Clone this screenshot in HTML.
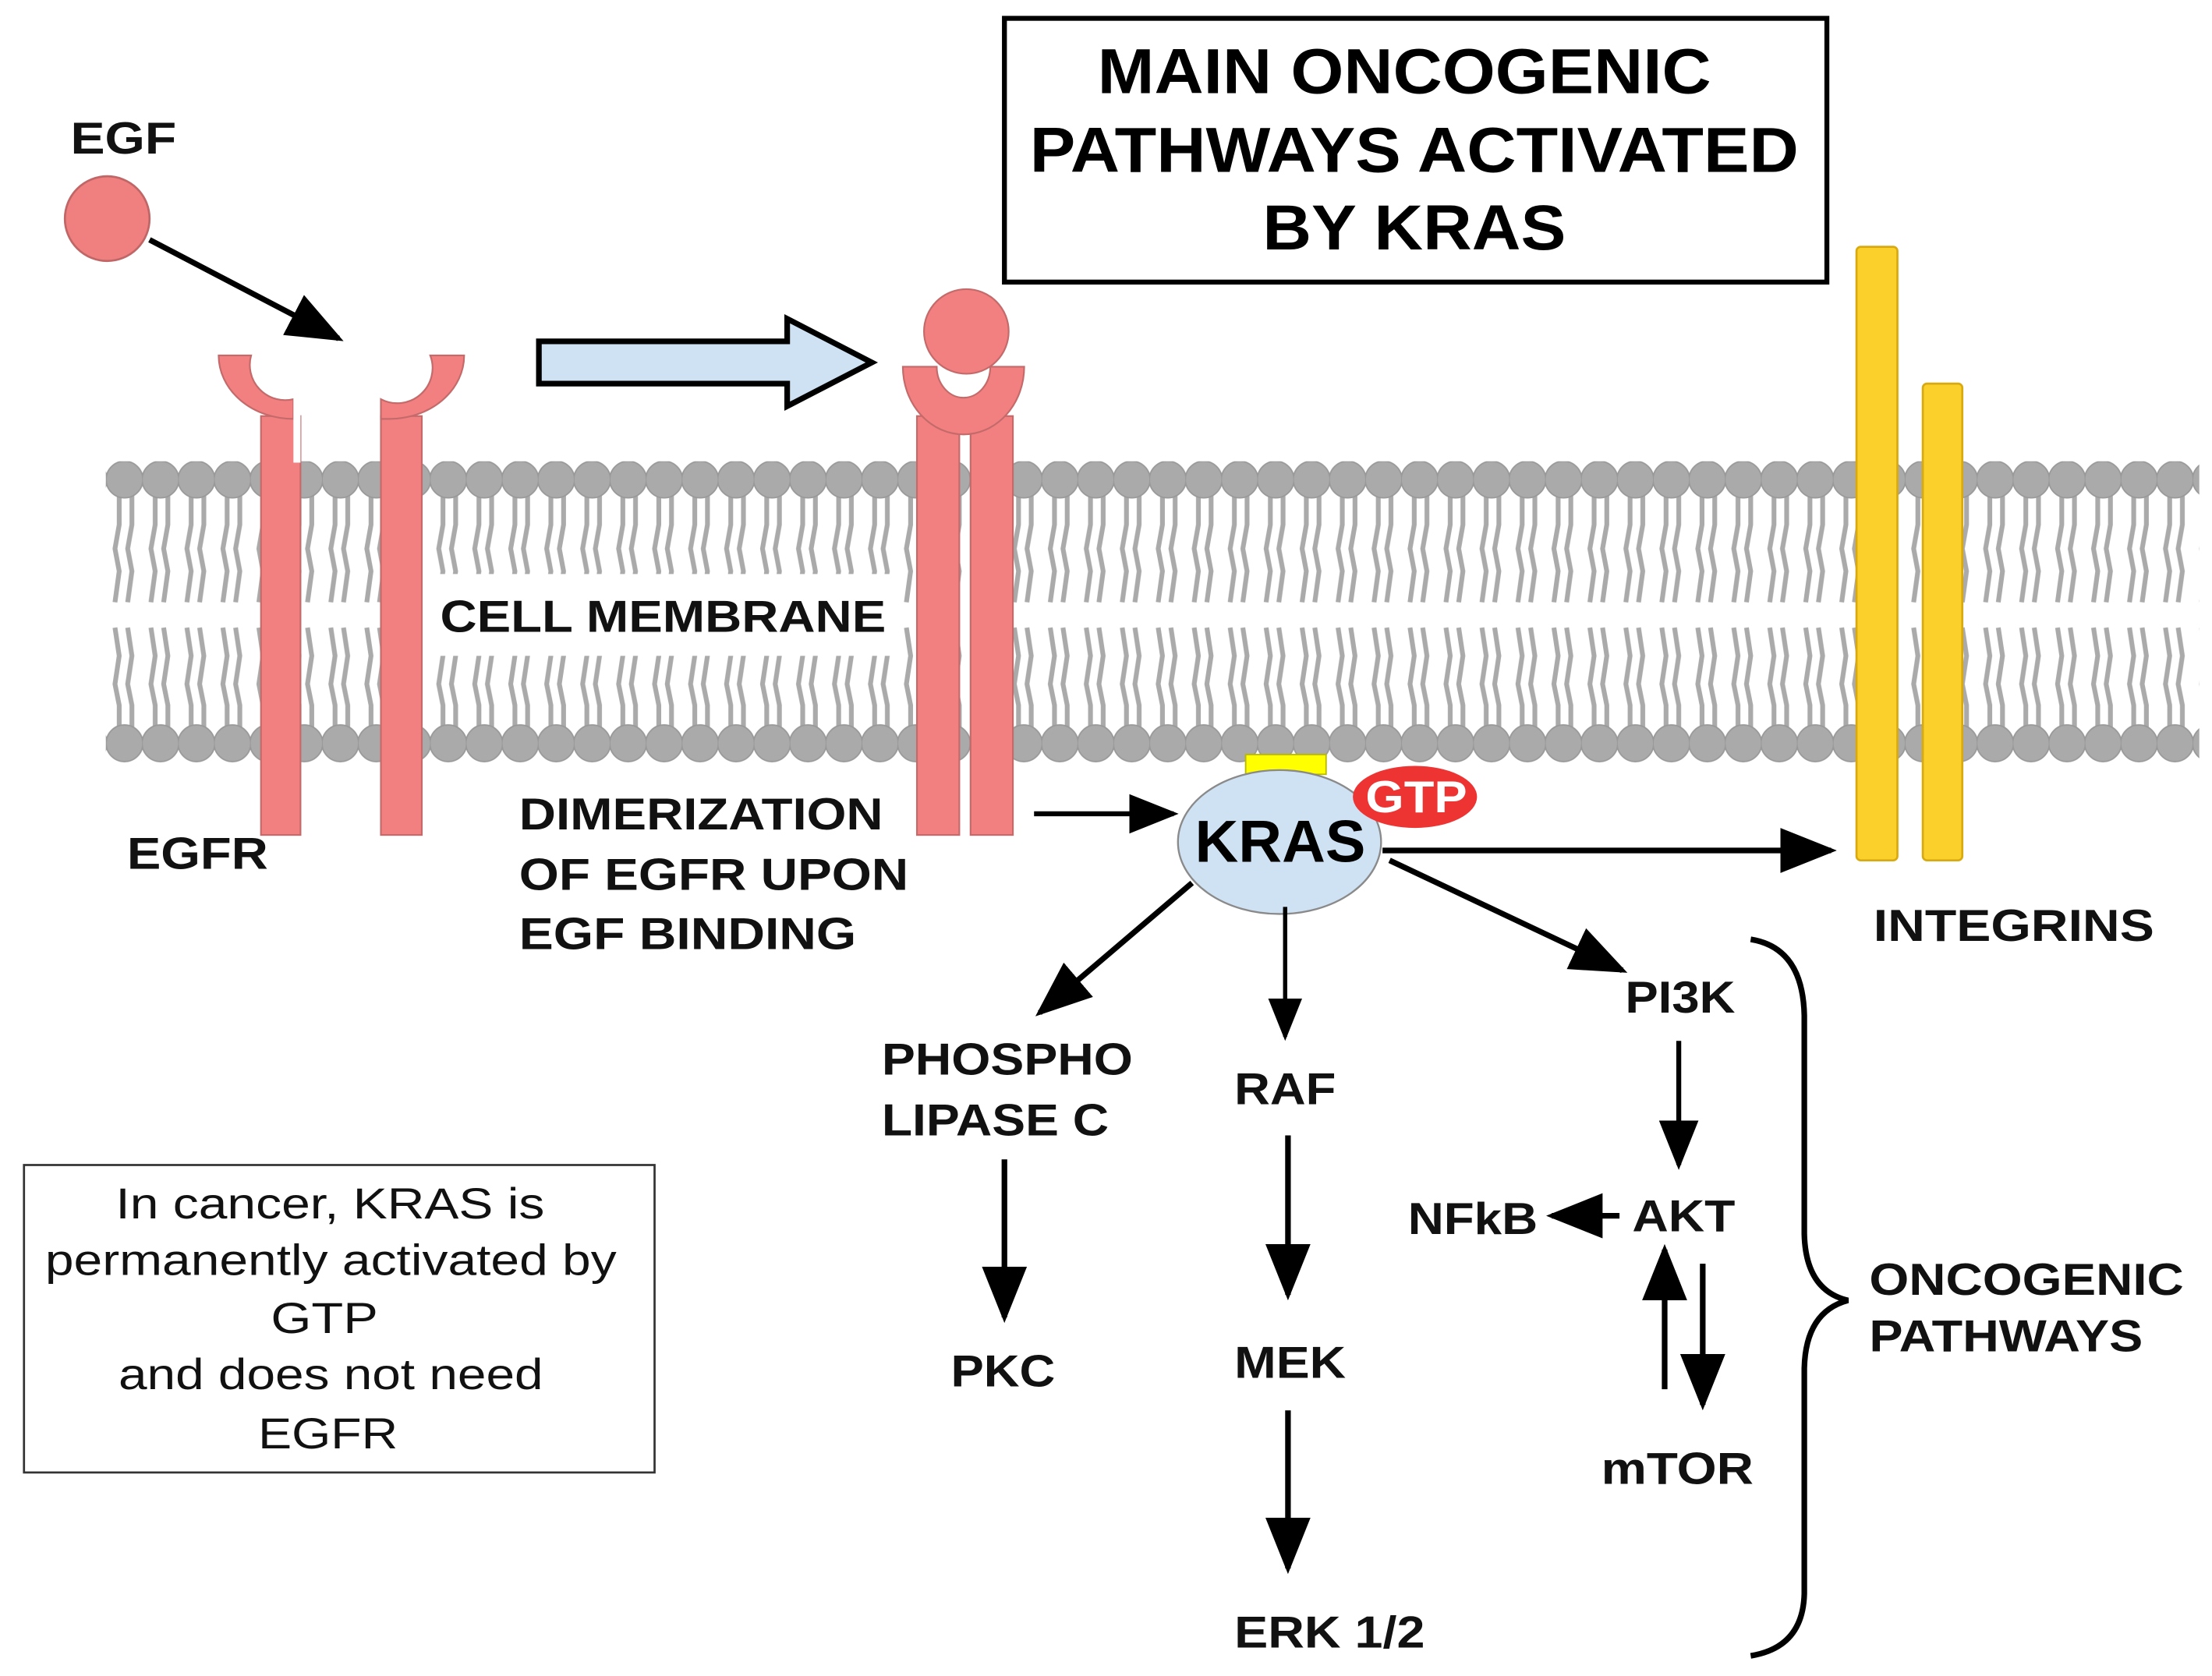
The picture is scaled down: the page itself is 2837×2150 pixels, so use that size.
<!DOCTYPE html>
<html><head><meta charset="utf-8"><style>
html,body{margin:0;padding:0;background:#fff;}
svg{display:block;}
text{font-family:"Liberation Sans",Arial,sans-serif;}
.b{font-weight:bold;font-size:32px;fill:#111;}
</style></head><body>
<svg width="2837" height="2150" viewBox="0 0 1568 1188.3" preserveAspectRatio="none" xmlns="http://www.w3.org/2000/svg">
<defs>
<pattern id="up" x="75.5" y="327" width="25.5" height="110" patternUnits="userSpaceOnUse">
 <path d="M9 24 L9 45 L6 62 L9 78 L6 100 M18 24 L18 45 L15 62 L18 78 L15 100" fill="none" stroke="#aaa" stroke-width="3.4"/>
 <circle cx="12.75" cy="13" r="13" fill="#aaa" stroke="#999" stroke-width="1"/>
</pattern>
<pattern id="lo" x="75.5" y="440" width="25.5" height="101" patternUnits="userSpaceOnUse">
 <path d="M6 5 L9 25 L6 45 L9 60 L9 80 M15 5 L18 25 L15 45 L18 60 L18 80" fill="none" stroke="#aaa" stroke-width="3.4"/>
 <circle cx="12.75" cy="87" r="13" fill="#aaa" stroke="#999" stroke-width="1"/>
</pattern>
<marker id="ah" markerWidth="10" markerHeight="8" refX="9" refY="4" orient="auto" markerUnits="strokeWidth">
 <path d="M0 0 L10 4 L0 8 Z" fill="#000"/>
</marker>
</defs>
<rect width="1568" height="1189" fill="#fff"/>

<rect x="712" y="13" width="583" height="187" fill="#fff" stroke="#000" stroke-width="3.5"/>
<g style="font-weight:bold;font-size:45px" lengthAdjust="spacingAndGlyphs">
<text x="778" y="66" textLength="435" lengthAdjust="spacingAndGlyphs">MAIN ONCOGENIC</text>
<text x="730" y="122" textLength="545" lengthAdjust="spacingAndGlyphs">PATHWAYS ACTIVATED</text>
<text x="895" y="177" textLength="215" lengthAdjust="spacingAndGlyphs">BY KRAS</text>
</g>

<rect x="75" y="327" width="1484" height="105" fill="url(#up)"/>
<rect x="75" y="440" width="1484" height="101" fill="url(#lo)"/>
<rect x="298" y="407" width="342" height="58" fill="#fff"/>
<text class="b" x="312" y="448" textLength="316" lengthAdjust="spacingAndGlyphs">CELL MEMBRANE</text>

<text class="b" x="50" y="109" textLength="75" lengthAdjust="spacingAndGlyphs">EGF</text>
<circle cx="76" cy="155" r="30" fill="#f08080" stroke="#c06666" stroke-width="1.5"/>
<line x1="106" y1="170" x2="240" y2="240" stroke="#000" stroke-width="4" marker-end="url(#ah)"/>

<g fill="#f28080" stroke="#c46a6a" stroke-width="1.2">
 <rect x="185" y="295" width="28" height="297"/>
 <rect x="270" y="295" width="29" height="297"/>
 <path d="M155 252 A53 45 0 0 0 208 297 L208 283 A25 25 0 0 1 178 252 Z"/>
 <path d="M329 252 A53 45 0 0 1 276 297 L270 297 L270 283 A25 25 0 0 0 305 252 Z"/>
</g>
<rect x="208" y="260" width="5" height="68" fill="#fff"/>
<text class="b" x="90" y="616" textLength="100" lengthAdjust="spacingAndGlyphs">EGFR</text>

<path d="M382 242 L558 242 L558 226 L618 257 L558 288 L558 272 L382 272 Z" fill="#cfe2f3" stroke="#000" stroke-width="4"/>

<g fill="#f28080" stroke="#c46a6a" stroke-width="1.2">
 <rect x="650" y="295" width="30" height="297"/>
 <rect x="688" y="295" width="30" height="297"/>
 <path d="M640 260 A43 48 0 0 0 726 260 L702 260 A19 22 0 0 1 664 260 Z"/>
 <circle cx="685" cy="235" r="30"/>
</g>
<text class="b" x="368" y="588" textLength="258" lengthAdjust="spacingAndGlyphs">DIMERIZATION</text>
<text class="b" x="368" y="631" textLength="276" lengthAdjust="spacingAndGlyphs">OF EGFR UPON</text>
<text class="b" x="368" y="673" textLength="239" lengthAdjust="spacingAndGlyphs">EGF BINDING</text>
<line x1="733" y1="577" x2="832" y2="577" stroke="#000" stroke-width="3.5" marker-end="url(#ah)"/>

<rect x="1316" y="175" width="29" height="435" rx="3" fill="#fcd02a" stroke="#d8aa10" stroke-width="1.5"/>
<rect x="1363" y="272" width="28" height="338" rx="3" fill="#fcd02a" stroke="#d8aa10" stroke-width="1.5"/>
<text class="b" x="1328" y="667" textLength="199" lengthAdjust="spacingAndGlyphs">INTEGRINS</text>

<rect x="883" y="535" width="57" height="14" fill="#ffff00" stroke="#b8b800" stroke-width="1"/>
<ellipse cx="907" cy="597" rx="72" ry="51" fill="#cfe2f3" stroke="#8a8a8a" stroke-width="1.3"/>
<text x="847" y="611" textLength="121" lengthAdjust="spacingAndGlyphs" style="font-weight:bold;font-size:42px">KRAS</text>
<ellipse cx="1003" cy="565" rx="44" ry="22" fill="#ee3333"/>
<text x="968" y="576" textLength="72" lengthAdjust="spacingAndGlyphs" style="font-weight:bold;font-size:32px;fill:#fff">GTP</text>

<g stroke="#000" stroke-width="4" fill="none">
 <line x1="980" y1="603" x2="1298" y2="603" marker-end="url(#ah)"/>
 <line x1="985" y1="610" x2="1150" y2="688" marker-end="url(#ah)"/>
 <line x1="911" y1="643" x2="911" y2="735" stroke-width="3" marker-end="url(#ah)"/>
 <line x1="845" y1="626" x2="737" y2="718" marker-end="url(#ah)"/>
 <line x1="1190" y1="738" x2="1190" y2="826" stroke-width="3.5" marker-end="url(#ah)"/>
 <line x1="1148" y1="862" x2="1100" y2="862" stroke-width="4" marker-end="url(#ah)"/>
 <line x1="1180" y1="985" x2="1180" y2="886" stroke-width="4" marker-end="url(#ah)"/>
 <line x1="1207" y1="896" x2="1207" y2="996" stroke-width="4" marker-end="url(#ah)"/>
 <line x1="712" y1="822" x2="712" y2="934" stroke-width="4" marker-end="url(#ah)"/>
 <line x1="913" y1="805" x2="913" y2="918" stroke-width="4" marker-end="url(#ah)"/>
 <line x1="913" y1="1000" x2="913" y2="1112" stroke-width="4" marker-end="url(#ah)"/>
</g>

<text class="b" x="1152" y="718" textLength="78" lengthAdjust="spacingAndGlyphs">PI3K</text>
<text class="b" x="1157" y="873" textLength="73" lengthAdjust="spacingAndGlyphs">AKT</text>
<text class="b" x="998" y="875" textLength="92" lengthAdjust="spacingAndGlyphs">NFkB</text>
<text class="b" x="1135" y="1052" textLength="108" lengthAdjust="spacingAndGlyphs">mTOR</text>
<text class="b" x="625" y="762" textLength="178" lengthAdjust="spacingAndGlyphs">PHOSPHO</text>
<text class="b" x="625" y="805" textLength="161" lengthAdjust="spacingAndGlyphs">LIPASE C</text>
<text class="b" x="674" y="983" textLength="74" lengthAdjust="spacingAndGlyphs">PKC</text>
<text class="b" x="875" y="783" textLength="72" lengthAdjust="spacingAndGlyphs">RAF</text>
<text class="b" x="875" y="977" textLength="79" lengthAdjust="spacingAndGlyphs">MEK</text>
<text class="b" x="875" y="1168" textLength="135" lengthAdjust="spacingAndGlyphs">ERK 1/2</text>

<path d="M1241 666 Q1278 672 1279 720 L1279 875 Q1280 915 1310 922 Q1280 930 1279 970 L1279 1130 Q1278 1168 1241 1174" fill="none" stroke="#000" stroke-width="4"/>
<text class="b" x="1325" y="918" textLength="223" lengthAdjust="spacingAndGlyphs">ONCOGENIC</text>
<text class="b" x="1325" y="958" textLength="194" lengthAdjust="spacingAndGlyphs">PATHWAYS</text>

<rect x="17" y="826" width="447" height="218" fill="#fff" stroke="#333" stroke-width="1.5"/>
<g style="font-size:31px;fill:#111">
<text x="82" y="864" textLength="304" lengthAdjust="spacingAndGlyphs">In cancer, KRAS is</text>
<text x="32" y="904" textLength="405" lengthAdjust="spacingAndGlyphs">permanently activated by</text>
<text x="192" y="945" textLength="76" lengthAdjust="spacingAndGlyphs">GTP</text>
<text x="84" y="985" textLength="301" lengthAdjust="spacingAndGlyphs">and does not need</text>
<text x="183" y="1027" textLength="99" lengthAdjust="spacingAndGlyphs">EGFR</text>
</g>
</svg>
</body></html>
